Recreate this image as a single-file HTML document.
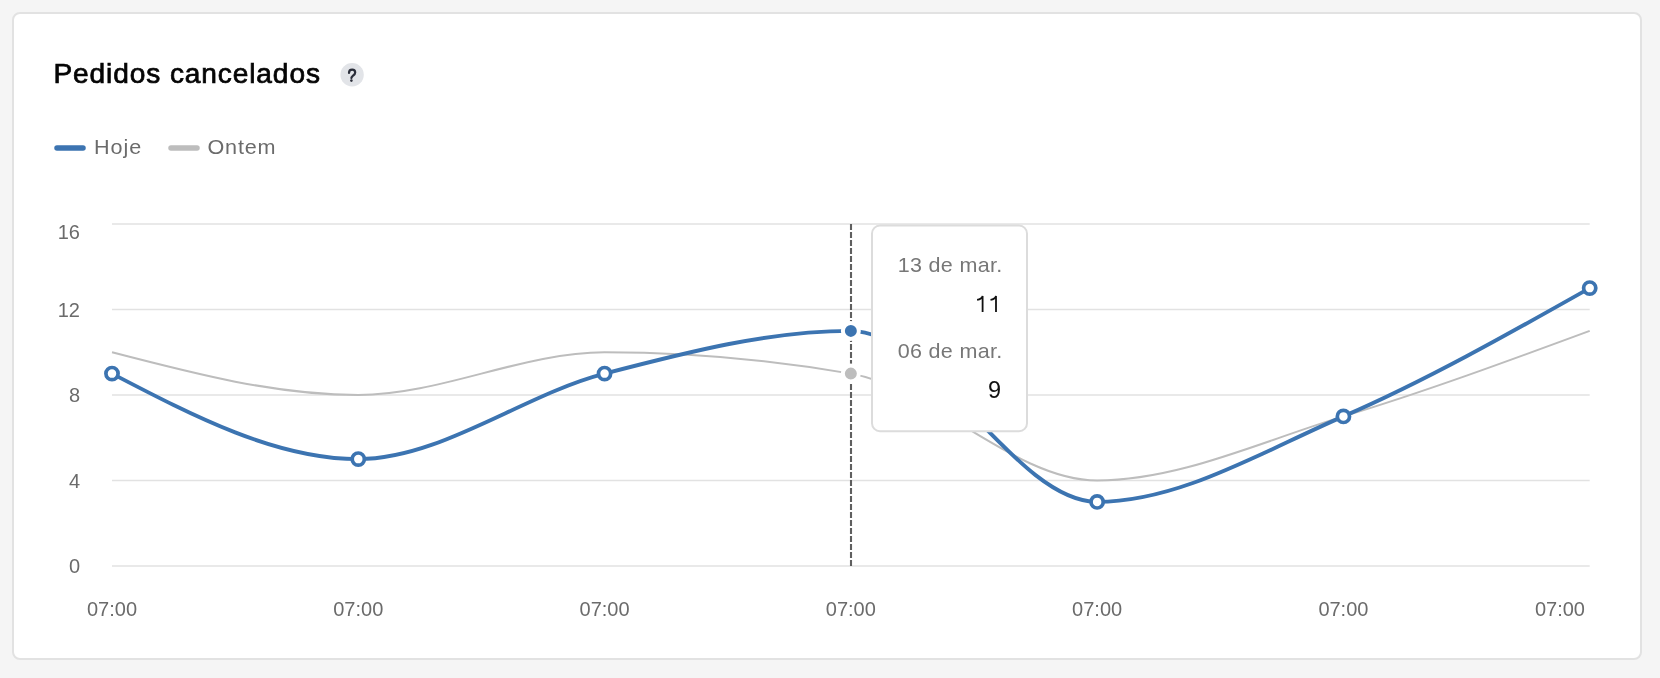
<!DOCTYPE html>
<html><head><meta charset="utf-8"><style>
html,body{margin:0;padding:0;background:#f5f5f5;width:1660px;height:678px;overflow:hidden}
.card{position:absolute;left:12px;top:12px;width:1626px;height:644px;border:2px solid #e2e2e2;border-radius:8px;background:#fff}
svg{position:absolute;left:0;top:0;will-change:transform}
text{font-family:"Liberation Sans",sans-serif}
</style></head><body>
<div class="card"></div>
<svg width="1660" height="678" viewBox="0 0 1660 678">
<text transform="translate(53.5,82.8) scale(1.04,1)" x="0" y="0" font-size="27" fill="#050505" stroke="#050505" stroke-width="0.7" letter-spacing="0.86">Pedidos cancelados</text>
<circle cx="352.1" cy="74.8" r="11.7" fill="#e2e4e8"/>
<path d="M349.0,72.9 C349.0,70.8 350.5,69.7 352.2,69.7 C354.0,69.7 355.2,70.8 355.2,72.5 C355.2,74.4 353.5,75.3 352.4,76.3 C351.7,76.9 351.4,77.4 351.4,78.1" fill="none" stroke="#2b2e3a" stroke-width="2.2" stroke-linecap="round"/><circle cx="351.4" cy="80.6" r="1.3" fill="#2b2e3a"/>
<line x1="57" y1="148" x2="83" y2="148" stroke="#3c74b1" stroke-width="5.5" stroke-linecap="round"/>
<text transform="translate(94,153.7) scale(1.08,1)" font-size="20" fill="#6b6b6b" letter-spacing="0.85">Hoje</text>
<line x1="171" y1="148" x2="197" y2="148" stroke="#bdbdbd" stroke-width="5.5" stroke-linecap="round"/>
<text transform="translate(207.5,153.7) scale(1.08,1)" font-size="20" fill="#6b6b6b" letter-spacing="0.75">Ontem</text>
<g stroke="#e2e2e2" stroke-width="1.6"><line x1="112" y1="566.00" x2="1589.7" y2="566.00"/><line x1="112" y1="480.50" x2="1589.7" y2="480.50"/><line x1="112" y1="395.00" x2="1589.7" y2="395.00"/><line x1="112" y1="309.50" x2="1589.7" y2="309.50"/><line x1="112" y1="224.00" x2="1589.7" y2="224.00"/></g>
<g font-size="20" fill="#6b6b6b" text-anchor="end"><text x="80" y="239.0">16</text><text x="80" y="317.2">12</text><text x="80" y="402.0">8</text><text x="80" y="488.0">4</text><text x="80" y="572.7">0</text></g>
<g font-size="20" fill="#6b6b6b" text-anchor="middle"><text x="112.00" y="616">07:00</text><text x="358.28" y="616">07:00</text><text x="604.57" y="616">07:00</text><text x="850.85" y="616">07:00</text><text x="1097.13" y="616">07:00</text><text x="1343.42" y="616">07:00</text><text x="1585" y="616" text-anchor="end">07:00</text></g>
<line x1="851" y1="224" x2="851" y2="566" stroke="#5f5f5f" stroke-width="2.1" stroke-dasharray="6 2"/>
<path d="M112.00,352.25C194.09,373.62 276.19,395.00 358.28,395.00C440.38,395.00 522.47,352.25 604.57,352.25C686.66,352.25 768.76,359.38 850.85,373.62C932.94,387.88 1015.04,480.50 1097.13,480.50C1179.23,480.50 1261.32,441.31 1343.42,416.38C1425.51,391.44 1507.61,361.16 1589.70,330.88" fill="none" stroke="#bdbdbd" stroke-width="2"/>
<path d="M112.00,373.62C194.09,416.38 276.19,459.12 358.28,459.12C440.38,459.12 522.47,395.00 604.57,373.62C686.66,352.25 768.76,330.88 850.85,330.88C932.94,330.88 1015.04,501.88 1097.13,501.88C1179.23,501.88 1261.32,452.00 1343.42,416.38C1425.51,380.75 1507.61,334.44 1589.70,288.12" fill="none" stroke="#3c74b1" stroke-width="3.9"/>
<g fill="#fff" stroke="#3c74b1" stroke-width="3.7"><circle cx="112.00" cy="373.62" r="6.1"/><circle cx="358.28" cy="459.12" r="6.1"/><circle cx="604.57" cy="373.62" r="6.1"/><circle cx="1097.13" cy="501.88" r="6.1"/><circle cx="1343.42" cy="416.38" r="6.1"/><circle cx="1589.70" cy="288.12" r="6.1"/></g>
<circle cx="850.85" cy="330.88" r="8" fill="#3c74b1" stroke="#fff" stroke-width="4"/>
<circle cx="850.85" cy="373.62" r="8" fill="#bdbdbd" stroke="#fff" stroke-width="4"/>
<rect x="872" y="225.5" width="155" height="205.7" rx="8" fill="#fff" stroke="#dcdcdc" stroke-width="2"/>
<g font-size="20.5" fill="#777" text-anchor="end" letter-spacing="0.3">
<text transform="translate(1002.5,272) scale(1.05,1)">13 de mar.</text>
<text transform="translate(1002.5,358) scale(1.05,1)">06 de mar.</text>
</g>
<g font-size="23.5" fill="#111" text-anchor="end">
</g><g fill="none" stroke="#111" stroke-width="1.8"><path d="M977.1,299.9 C979.5,299.5 982.0,298.3 982.6,296.0 L982.6,311.9"/><path d="M990.5,299.9 C992.9,299.5 995.4,298.3 996.0,296.0 L996.0,311.9"/></g><g font-size="23.5" fill="#111" text-anchor="end">
<text x="1001.1" y="397.6">9</text>
</g>
</svg>
</body></html>
